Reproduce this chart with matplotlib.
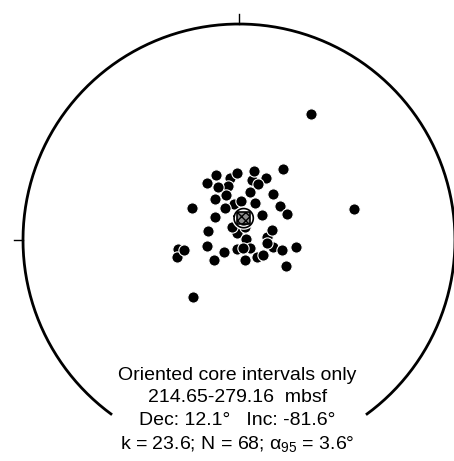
import numpy as np
import matplotlib
matplotlib.use("Agg")
import matplotlib.pyplot as plt
from matplotlib.patches import Rectangle

plt.rcParams['font.family'] = ['Liberation Sans', 'DejaVu Sans']
plt.rcParams['mathtext.fontset'] = 'custom'
plt.rcParams['mathtext.rm'] = 'Liberation Sans'
plt.rcParams['mathtext.it'] = 'Liberation Sans'

# equal-area positions (east, north) in units of the primitive radius
# partly hidden directions first, so the later dots sit on top of them
east_hidden = [-0.042, -0.051, -0.060, 0.074, -0.023, -0.009, 0.130, 0.032,
               -0.009, 0.051, 0.157, 0.083, -0.282, -0.287, 0.060, 0.028]
north_hidden = [0.287, 0.250, 0.208, 0.171, 0.167, 0.032, 0.014, 0.005,
                -0.042, -0.037, -0.032, -0.079, -0.042, -0.079, 0.278, 0.060]

east = [0.333, 0.532, -0.213, -0.218, 0.204, 0.069, -0.009, -0.106, 0.125,
        -0.148, -0.097, 0.088, 0.051, 0.157, -0.111, 0.009, 0.190, 0.222,
        -0.065, 0.106, -0.111, -0.032, -0.144, 0.153, 0.130, 0.019, 0.199,
        0.264, -0.148, -0.069, -0.116, 0.028, 0.111, 0.218, -0.255]
north = [0.583, 0.144, -0.264, 0.148, 0.329, 0.319, 0.310, 0.301, 0.287,
         0.264, 0.245, 0.259, 0.222, 0.213, 0.190, 0.181, 0.157, 0.120,
         0.148, 0.116, 0.106, 0.060, 0.042, 0.046, -0.014, -0.037, -0.046,
         -0.032, -0.028, -0.056, -0.093, -0.093, -0.069, -0.120, -0.046]

mean_dec = 12.1
mean_inc = -81.6
a95 = 3.6

labels = ["Oriented core intervals only",
          "214.65-279.16  mbsf",
          "Dec: 12.1\u00b0   Inc: -81.6\u00b0",
          "k = 23.6; N = 68; $\\alpha_{95}$ = 3.6\u00b0"]


def project(dec, inc):
    # Schmidt (equal-area) net, radius 1
    r = np.sqrt(2) * np.sin(np.radians(90 - np.abs(inc)) / 2)
    d = np.radians(dec)
    return r * np.sin(d), r * np.cos(d)


def small_circle(dec, inc, ang, n=120):
    d, i = np.radians(dec), np.radians(inc)
    v = np.array([np.cos(i) * np.cos(d), np.cos(i) * np.sin(d), np.sin(i)])
    a = np.cross(v, [0, 0, 1.0])
    a /= np.linalg.norm(a)
    b = np.cross(v, a)
    t = np.linspace(0, 2 * np.pi, n)
    g = np.radians(ang)
    p = (np.cos(g) * v[:, None] + np.sin(g) * (np.outer(a, np.cos(t)) + np.outer(b, np.sin(t))))
    decs = np.degrees(np.arctan2(p[1], p[0]))
    incs = np.degrees(np.arcsin(np.clip(p[2], -1, 1)))
    return project(decs, incs)


fig = plt.figure(figsize=(4.54, 4.61), dpi=100)
ax = fig.add_axes([0, 0, 1, 1])
ax.set_xlim(-239 / 216, 215 / 216)
ax.set_ylim(-221 / 216, 240 / 216)
ax.set_aspect('equal')
ax.axis('off')

# primitive circle, open at the bottom for the labels
az = np.radians(np.linspace(-144, 144, 400))
ax.plot(np.sin(az), np.cos(az), color='black', lw=2.0, solid_capstyle='butt')
ax.plot([0, 0], [1.0, 1.045], color='black', lw=1.0)
ax.plot([-1.0, -1.04], [0, 0], color='black', lw=1.0)

ax.scatter(east_hidden, north_hidden, s=66, c='black', edgecolors='white',
           linewidths=0.8, zorder=3)
ax.scatter(east, north, s=66, c='black', edgecolors='white',
           linewidths=0.8, zorder=4)

mx, my = project(mean_dec, mean_inc)
cx, cy = small_circle(mean_dec, mean_inc, a95)
ax.plot(cx, cy, color='white', lw=3.0, zorder=5)
ax.plot(cx, cy, color='black', lw=1.2, zorder=6)
side = 0.058
ax.add_patch(Rectangle((mx - side / 2, my - side / 2), side, side,
                       facecolor='0.55', edgecolor='black', hatch='xxxx',
                       lw=1.2, zorder=7))

for k, s in enumerate(labels):
    ax.text(-0.008, -0.625 - k * 0.106, s, ha='center', va='center',
            fontsize=14)

fig.savefig("out.png", dpi=100)
